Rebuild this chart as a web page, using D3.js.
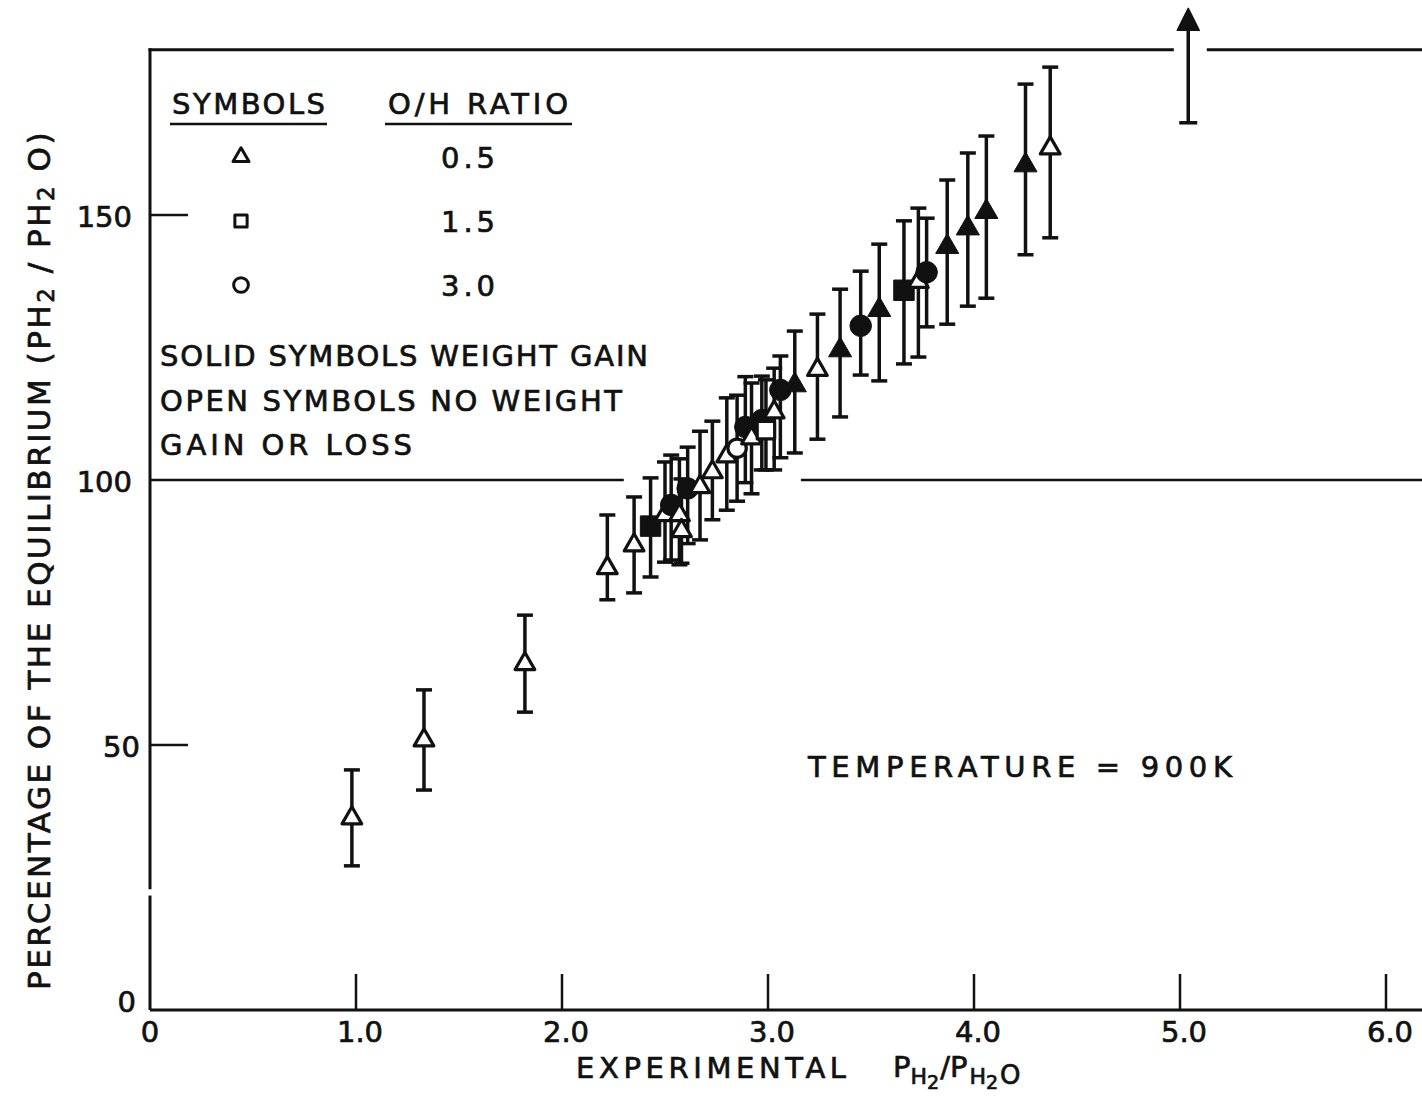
<!DOCTYPE html>
<html>
<head>
<meta charset="utf-8">
<script src="https://cdn.jsdelivr.net/npm/d3@7"></script>
<style>
  body { margin: 0; background: #fff; }
  text { font-family: "DejaVu Sans", "Liberation Sans", sans-serif; fill: #111; stroke: #111; stroke-width: 0.7px; }
</style>
</head>
<body>
<svg id="chart" width="1422" height="1099"></svg>
<script>
// readings: experimental ratio, % of equilibrium, error bar ends
const xVals = [0.98, 1.33, 1.82, 2.22, 2.35, 2.43, 2.50, 2.53, 2.57, 2.58, 2.61, 2.67, 2.73, 2.80, 2.85, 2.89,
  2.92, 2.97, 2.99, 3.03, 3.06, 3.13, 3.24, 3.35, 3.45, 3.54, 3.66, 3.73, 3.77, 3.87, 3.97, 4.06, 4.25, 4.37];
const yVals = [36.2, 50.9, 65.3, 83.4, 87.7, 91.3, 93.4, 95.3, 93.4, 90.4, 98.4, 98.7, 101.5, 104.5, 106.0, 110.0,
  107.9, 111.3, 109.4, 112.8, 117.0, 117.9, 120.8, 124.5, 129.1, 132.1, 135.8, 137.4, 139.2, 144.0, 147.5, 150.6, 159.4, 162.6];
const yLow = [27.2, 41.5, 56.2, 77.4, 78.7, 81.7, 84.5, 84.9, 84.0, 84.3, 88.0, 88.7, 92.5, 94.3, 96.0, 99.5,
  97.4, 101.9, 101.9, 101.9, 104.2, 105.1, 107.7, 111.9, 119.8, 118.7, 121.9, 123.2, 128.9, 129.4, 132.8, 134.3, 142.5, 145.7];
const yHigh = [45.3, 60.4, 74.5, 93.4, 96.8, 100.4, 103.4, 104.7, 104.0, 100.2, 106.2, 109.2, 111.1, 115.5, 116.0, 119.5,
  118.3, 119.6, 118.9, 121.1, 123.4, 128.1, 131.3, 136.0, 139.4, 144.5, 148.9, 151.3, 149.4, 156.6, 161.7, 164.9, 174.7, 177.9];
// shape = O/H ratio group: tri 0.5, sq 1.5, circ 3.0
const shapes = ["tri", "tri", "tri", "tri", "tri", "sq", "tri", "circ", "tri", "tri", "circ", "tri", "tri", "tri", "circ", "circ",
  "tri", "circ", "sq", "tri", "circ", "tri", "tri", "tri", "circ", "tri", "sq", "tri", "circ", "tri", "tri", "tri", "tri", "tri"];
const solid = [0, 0, 0, 0, 0, 1, 0, 1, 0, 0, 1, 0, 0, 0, 0, 1,
  0, 1, 0, 0, 1, 1, 0, 1, 1, 1, 1, 0, 1, 1, 1, 1, 1, 0];

// off-scale point drawn as an arrow
const arrowX = 5.04;
const arrowLow = 167.4;
const arrowTip = 189;

const xTicks = [0, 1, 2, 3, 4, 5, 6];
const xTickLabels = ["0", "1.0", "2.0", "3.0", "4.0", "5.0", "6.0"];
const yTicks = [0, 50, 100, 150];
const legendShapes = ["tri", "sq", "circ"];
const legendRatios = ["0.5", "1.5", "3.0"];
const noteLines = ["SOLID SYMBOLS WEIGHT GAIN", "OPEN SYMBOLS NO WEIGHT", "GAIN OR LOSS"];

const svg = d3.select("#chart");
const x = d3.scaleLinear().domain([0, 6]).range([150, 1386]);
const y = d3.scaleLinear().domain([0, 150]).range([1010, 215]);
const xEnd = 6.18;
const frameTop = 181.2;

const ink = "#111";
const g = svg.append("g").attr("stroke", ink).attr("fill", "none").attr("stroke-linecap", "butt");

// axes frame
g.append("line").attr("x1", x(0)).attr("x2", x(xEnd)).attr("y1", y(0)).attr("y2", y(0)).attr("stroke-width", 3);
g.append("line").attr("x1", x(0)).attr("x2", x(0)).attr("y1", y(0)).attr("y2", y(21.6)).attr("stroke-width", 3);
g.append("line").attr("x1", x(0)).attr("x2", x(0)).attr("y1", y(22.8)).attr("y2", y(frameTop) - 1.5).attr("stroke-width", 3);
// top frame line with gap for the arrow
g.append("line").attr("x1", x(0) - 1.5).attr("x2", x(4.97)).attr("y1", y(frameTop)).attr("y2", y(frameTop)).attr("stroke-width", 3);
g.append("line").attr("x1", x(5.13)).attr("x2", x(xEnd)).attr("y1", y(frameTop)).attr("y2", y(frameTop)).attr("stroke-width", 3);
// 100 % line, broken where the data pass
g.append("line").attr("x1", x(0)).attr("x2", x(2.30)).attr("y1", y(100)).attr("y2", y(100)).attr("stroke-width", 2.5);
g.append("line").attr("x1", x(3.16)).attr("x2", x(xEnd)).attr("y1", y(100)).attr("y2", y(100)).attr("stroke-width", 2.5);

// ticks
g.selectAll(".xt").data(xTicks.filter(d => d > 0)).join("line")
  .attr("x1", d => x(d)).attr("x2", d => x(d))
  .attr("y1", y(0)).attr("y2", y(0) - 36).attr("stroke-width", 2.5);
g.selectAll(".yt").data([50, 150]).join("line")
  .attr("x1", x(0)).attr("x2", x(0) + 38)
  .attr("y1", d => y(d)).attr("y2", d => y(d)).attr("stroke-width", 2.5);

svg.selectAll(".xl").data(xTicks).join("text")
  .attr("x", d => x(d) + (d === 0 ? 0 : 4)).attr("y", y(0) + 32)
  .attr("text-anchor", "middle").attr("font-size", 29)
  .text((d, i) => xTickLabels[i]);
svg.selectAll(".yl").data(yTicks).join("text")
  .attr("x", d => d === 0 ? 136 : (d === 50 ? 140 : 132)).attr("y", d => y(d) + (d === 0 ? 2 : 12))
  .attr("text-anchor", "end").attr("font-size", 29)
  .text(d => d);

// symbol helper
const symSize = { tri: 210, sq: 380, circ: 330 };
const symType = { tri: d3.symbolTriangle, sq: d3.symbolSquare, circ: d3.symbolCircle };
function sym(shape, scale) {
  return d3.symbol().type(symType[shape]).size(symSize[shape] * scale)();
}

// error bars
const pts = xVals.map((v, i) => ({ x: v, y: yVals[i], lo: yLow[i], hi: yHigh[i], shape: shapes[i], solid: solid[i] }));
const eb = g.append("g").attr("stroke-width", 3.5);
eb.selectAll(".stem").data(pts).join("line")
  .attr("x1", d => x(d.x)).attr("x2", d => x(d.x))
  .attr("y1", d => y(d.lo)).attr("y2", d => y(d.hi));
eb.selectAll(".capL").data(pts).join("line")
  .attr("x1", d => x(d.x) - 8).attr("x2", d => x(d.x) + 8)
  .attr("y1", d => y(d.lo)).attr("y2", d => y(d.lo));
eb.selectAll(".capH").data(pts).join("line")
  .attr("x1", d => x(d.x) - 8).attr("x2", d => x(d.x) + 8)
  .attr("y1", d => y(d.hi)).attr("y2", d => y(d.hi));

// markers
svg.append("g").selectAll("path").data(pts).join("path")
  .attr("transform", d => `translate(${x(d.x)},${y(d.y)})`)
  .attr("d", d => sym(d.shape, d.solid ? 1.1 : 0.8))
  .attr("fill", d => d.solid ? ink : "#fff")
  .attr("stroke", ink)
  .attr("stroke-width", d => d.solid ? 1 : 3.2)
  .attr("stroke-linejoin", "round");

// arrow for the off-scale value
g.append("line").attr("x1", x(arrowX)).attr("x2", x(arrowX))
  .attr("y1", y(arrowLow)).attr("y2", y(arrowTip) + 14).attr("stroke-width", 3.5);
g.append("line").attr("x1", x(arrowX) - 9).attr("x2", x(arrowX) + 9)
  .attr("y1", y(arrowLow)).attr("y2", y(arrowLow)).attr("stroke-width", 3.5);
svg.append("path")
  .attr("transform", `translate(${x(arrowX)},${y(arrowTip) + 15})`)
  .attr("d", `M0,-15 L11,7 L-11,7 Z`)
  .attr("fill", ink).attr("stroke", ink).attr("stroke-width", 1.5).attr("stroke-linejoin", "round");

// legend
const leg = svg.append("g");
leg.append("text").attr("x", 172).attr("y", 114).attr("font-size", 29)
  .attr("textLength", 153).attr("lengthAdjust", "spacing").text("SYMBOLS");
leg.append("text").attr("x", 388).attr("y", 114).attr("font-size", 29)
  .attr("textLength", 180).attr("lengthAdjust", "spacing").text("O/H RATIO");
leg.append("line").attr("x1", 170).attr("x2", 327).attr("y1", 124).attr("y2", 124).attr("stroke", ink).attr("stroke-width", 2.5);
leg.append("line").attr("x1", 385).attr("x2", 572).attr("y1", 124).attr("y2", 124).attr("stroke", ink).attr("stroke-width", 2.5);
const legRowY = [157, 221, 285];
leg.selectAll(".ls").data(legendShapes).join("path")
  .attr("transform", (d, i) => `translate(${241},${legRowY[i]})`)
  .attr("d", d => d3.symbol().type(symType[d]).size(d === "tri" ? 110 : (d === "sq" ? 150 : 170))())
  .attr("fill", "#fff").attr("stroke", ink).attr("stroke-width", 3).attr("stroke-linejoin", "round");
leg.selectAll(".lr").data(legendRatios).join("text")
  .attr("x", 470).attr("y", (d, i) => legRowY[i] + 11)
  .attr("text-anchor", "middle").attr("font-size", 29).attr("letter-spacing", 4)
  .text(d => d);
const noteWidths = [488, 462, 252];
leg.selectAll(".note").data(noteLines).join("text")
  .attr("x", 160).attr("y", (d, i) => 366 + i * 44.5)
  .attr("font-size", 29)
  .attr("textLength", (d, i) => noteWidths[i]).attr("lengthAdjust", "spacing")
  .text(d => d);

svg.append("text").attr("x", 808).attr("y", 777).attr("font-size", 29)
  .attr("textLength", 424).attr("lengthAdjust", "spacing").text("TEMPERATURE = 900K");

// x title
svg.append("text").attr("x", 576).attr("y", 1078).attr("font-size", 29)
  .attr("textLength", 270).attr("lengthAdjust", "spacing").text("EXPERIMENTAL");
const xt = svg.append("text").attr("x", 893).attr("y", 1077).attr("font-size", 29);
xt.append("tspan").text("P");
xt.append("tspan").attr("font-size", 22).attr("dy", 7).text("H");
xt.append("tspan").attr("font-size", 19).attr("dy", 5).text("2");
xt.append("tspan").attr("dy", -12).attr("dx", 1).text("/P");
xt.append("tspan").attr("font-size", 22).attr("dy", 7).attr("dx", 2).text("H");
xt.append("tspan").attr("font-size", 19).attr("dy", 5).text("2");
xt.append("tspan").attr("font-size", 26).attr("dy", -5).attr("dx", 2).text("O");

// y title
const yt = svg.append("text").attr("transform", "translate(50,990) rotate(-90)")
  .attr("font-size", 31).attr("letter-spacing", 2.5);
yt.append("tspan").text("PERCENTAGE  OF  THE  EQUILIBRIUM  (PH");
yt.append("tspan").attr("font-size", 23).attr("dy", 4).text("2");
yt.append("tspan").attr("dy", -4).text(" / PH");
yt.append("tspan").attr("font-size", 23).attr("dy", 4).text("2");
yt.append("tspan").attr("dy", -4).text(" O)");
</script>
</body>
</html>
